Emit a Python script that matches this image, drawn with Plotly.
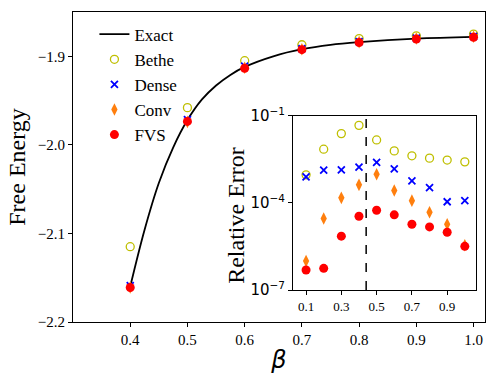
import plotly.graph_objects as go

# main panel: free energy vs beta
beta_exact = [0.400, 0.425, 0.450, 0.475, 0.500, 0.525, 0.550, 0.575, 0.600,
              0.650, 0.700, 0.750, 0.800, 0.900, 1.000]
f_exact = [-2.160, -2.096, -2.043, -2.003, -1.972, -1.949, -1.933, -1.921, -1.912,
           -1.900, -1.892, -1.887, -1.884, -1.880, -1.878]

beta = [0.4, 0.5, 0.6, 0.7, 0.8, 0.9, 1.0]
f_bethe = [-2.115, -1.958, -1.905, -1.887, -1.880, -1.877, -1.875]
f_dense = [-2.159, -1.9715, -1.911, -1.8915, -1.8835, -1.8795, -1.8775]
f_conv = [-2.161, -1.974, -1.913, -1.892, -1.884, -1.880, -1.878]
f_fvs = [-2.161, -1.9735, -1.9135, -1.8925, -1.8845, -1.8805, -1.8785]

# inset: relative error vs beta
beta_in = [0.1, 0.2, 0.3, 0.4, 0.5, 0.6, 0.7, 0.8, 0.9, 1.0]
err_bethe = [9.3e-4, 7.1e-3, 2.45e-2, 4.7e-2, 1.48e-2, 6.2e-3, 4.2e-3, 3.5e-3, 3.0e-3, 2.6e-3]
err_dense = [7.9e-4, 1.35e-3, 1.38e-3, 1.7e-3, 2.5e-3, 1.5e-3, 5.8e-4, 3.4e-4, 1.1e-4, 1.2e-4]
err_conv = [1.0e-6, 2.9e-5, 1.5e-4, 4.2e-4, 9.8e-4, 2.7e-4, 1.2e-4, 4.8e-5, 1.85e-5, 3.5e-6]
err_fvs = [4.9e-7, 5.6e-7, 7.2e-6, 3.5e-5, 5.6e-5, 3.9e-5, 1.85e-5, 1.5e-5, 9.8e-6, 3.2e-6]
beta_c = 0.4407

serif = "Liberation Serif"
styles = [
    ("Bethe", dict(symbol="circle-open", size=8, color="#bfbf00", line=dict(width=1.3, color="#bfbf00"))),
    ("Dense", dict(symbol="x-thin-open", size=7, color="#0000ff", line=dict(width=1.8, color="#0000ff"))),
    ("Conv", dict(symbol="diamond-tall", size=9, color="#ff7f0e", line=dict(width=0))),
    ("FVS", dict(symbol="circle", size=9, color="#ff0000", line=dict(width=0))),
]

fig = go.Figure()

fig.add_trace(go.Scatter(x=beta_exact, y=f_exact, mode="lines", name="Exact",
                         line=dict(color="black", width=1.8, shape="spline")))

for (name, mk), ys in zip(styles, [f_bethe, f_dense, f_conv, f_fvs]):
    fig.add_trace(go.Scatter(x=beta, y=ys, mode="markers", name=name, marker=mk))

for (name, mk), ys in zip(styles, [err_bethe, err_dense, err_conv, err_fvs]):
    fig.add_trace(go.Scatter(x=beta_in, y=ys, mode="markers", name=name, marker=mk,
                             xaxis="x2", yaxis="y2", showlegend=False))

# dashed line at the critical point
fig.add_shape(type="line", x0=beta_c, x1=beta_c, y0=0, y1=1, xref="x2", yref="y2 domain",
              line=dict(color="black", width=1.5, dash="dash"))

# inset y title sits very close to its tick labels, so place it by hand
fig.add_annotation(text="Relative Error", x=0.395, y=0.345, xref="paper", yref="paper",
                   textangle=-90, showarrow=False, font=dict(size=24, family=serif))

fig.update_layout(
    width=498, height=382,
    margin=dict(l=73, r=13, t=12, b=60, autoexpand=False),
    paper_bgcolor="white", plot_bgcolor="white",
    font=dict(family=serif, color="black"),
    xaxis=dict(range=[0.3, 1.02], tickvals=[0.4, 0.5, 0.6, 0.7, 0.8, 0.9, 1.0],
               ticktext=["0.4", "0.5", "0.6", "0.7", "0.8", "0.9", "1.0"],
               ticks="outside", ticklen=4, tickcolor="black", showgrid=False, zeroline=False,
               showline=True, linecolor="black", linewidth=1, mirror=True,
               tickfont=dict(size=15, family=serif),
               title=dict(text="<i>β</i>", font=dict(size=24, family="DejaVu Sans"), standoff=4)),
    yaxis=dict(range=[-2.2, -1.85], tickvals=[-2.2, -2.1, -2.0, -1.9],
               ticktext=["−2.2", "−2.1", "−2.0", "−1.9"],
               ticks="outside", ticklen=4, tickcolor="black", showgrid=False, zeroline=False,
               showline=True, linecolor="black", linewidth=1, mirror=True,
               tickfont=dict(size=15, family=serif),
               title=dict(text="Free Energy", font=dict(size=24, family=serif), standoff=5)),
    xaxis2=dict(domain=[0.534, 0.978], anchor="y2", range=[0.026, 1.063],
                tickvals=[0.1, 0.3, 0.5, 0.7, 0.9], ticks="outside", ticklen=4, tickcolor="black",
                showgrid=False, zeroline=False, showline=True, linecolor="black", linewidth=1,
                mirror=True, tickfont=dict(size=13, family=serif)),
    yaxis2=dict(domain=[0.103, 0.665], anchor="x2", type="log", range=[-7, -1],
                tickvals=[1e-7, 1e-4, 1e-1],
                ticktext=["10<sup>−7</sup>", "10<sup>−4</sup>", "10<sup>−1</sup>"],
                ticks="outside", ticklen=4, tickcolor="black", showgrid=False, zeroline=False,
                showline=True, linecolor="black", linewidth=1, mirror=True,
                tickfont=dict(size=15, family="DejaVu Sans")),
    legend=dict(x=0.052, y=0.985, xanchor="left", yanchor="top", bgcolor="rgba(0,0,0,0)",
                font=dict(size=17, family=serif), tracegroupgap=0, itemwidth=30),
    showlegend=True,
)

fig.write_html("out.html", config={"displayModeBar": False},
               post_script="document.body.style.margin='0';")
